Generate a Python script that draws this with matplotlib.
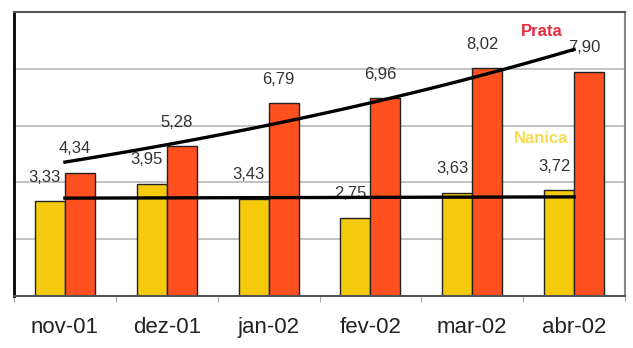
import numpy as np
import matplotlib
matplotlib.use("Agg")
import matplotlib.pyplot as plt

plt.rcParams['font.family'] = ['Liberation Sans', 'DejaVu Sans']

# dados
meses = ["nov-01", "dez-01", "jan-02", "fev-02", "mar-02", "abr-02"]
nanica = [3.33, 3.95, 3.43, 2.75, 3.63, 3.72]
prata = [4.34, 5.28, 6.79, 6.96, 8.02, 7.90]

amarelo = '#F5CA0C'
laranja = '#FF5020'

fig = plt.figure(figsize=(6.33, 3.48), dpi=100)
ax = fig.add_axes([14/633, 52/348, 611/633, 284/348])

x = np.arange(len(meses))
w = 0.295
ax.bar(x - w/2, nanica, w, color=amarelo, edgecolor='#222222', linewidth=1.0, zorder=2)
ax.bar(x + w/2, prata, w, color=laranja, edgecolor='#222222', linewidth=1.0, zorder=2)

# rotulos de valor
for i in range(len(meses)):
    ax.annotate(f"{nanica[i]:.2f}".replace('.', ','), (x[i] - w/2, nanica[i]),
                xytext=(-5, 24), textcoords='offset pixels', ha='center', va='center',
                fontsize=12, color='#333333', zorder=1)
    ax.annotate(f"{prata[i]:.2f}".replace('.', ','), (x[i] + w/2, prata[i]),
                xytext=(-5, 24), textcoords='offset pixels', ha='center', va='center',
                fontsize=12, color='#333333', zorder=1)

# linhas de tendencia
xs = np.linspace(0, len(meses) - 1, 100)
b, a = np.polyfit(x, np.log(prata), 1)
ax.plot(xs, np.exp(a + b * xs), color='black', linewidth=2.4, zorder=3)
b2, a2 = np.polyfit(x, nanica, 1)
ax.plot(xs, a2 + b2 * xs, color='black', linewidth=2.4, zorder=3)

ax.text(4.68, 9.3, "Prata", color='#E8283C', fontsize=12, fontweight='bold',
        ha='center', va='center', zorder=1)
ax.text(4.68, 5.56, "Nanica", color='#F5DC50', fontsize=12, fontweight='bold',
        ha='center', va='center', zorder=1)

ax.set_xlim(-0.5, len(meses) - 0.5)
ax.set_ylim(0, 10)
ax.set_yticks([2, 4, 6, 8])
ax.set_yticklabels([])
ax.tick_params(axis='y', length=0)
ax.grid(axis='y', color='#b8b8b8', linewidth=1.2, zorder=0)
ax.set_axisbelow(True)

ax.set_xticks(x)
ax.set_xticklabels(meses, fontsize=16, color='#222222')
ax.tick_params(axis='x', which='major', length=0, pad=15)
ax.set_xticks(np.arange(-0.5, len(meses), 1), minor=True)
ax.tick_params(axis='x', which='minor', length=4, color='#999999', direction='out')

ax.spines['left'].set_color('black')
ax.spines['left'].set_linewidth(2)
ax.spines['top'].set_color('#555555')
ax.spines['top'].set_linewidth(1.5)
ax.spines['right'].set_color('#888888')
ax.spines['right'].set_linewidth(1.5)
ax.spines['bottom'].set_color('#555555')
ax.spines['bottom'].set_linewidth(1.5)

plt.savefig("out.png", dpi=100)
